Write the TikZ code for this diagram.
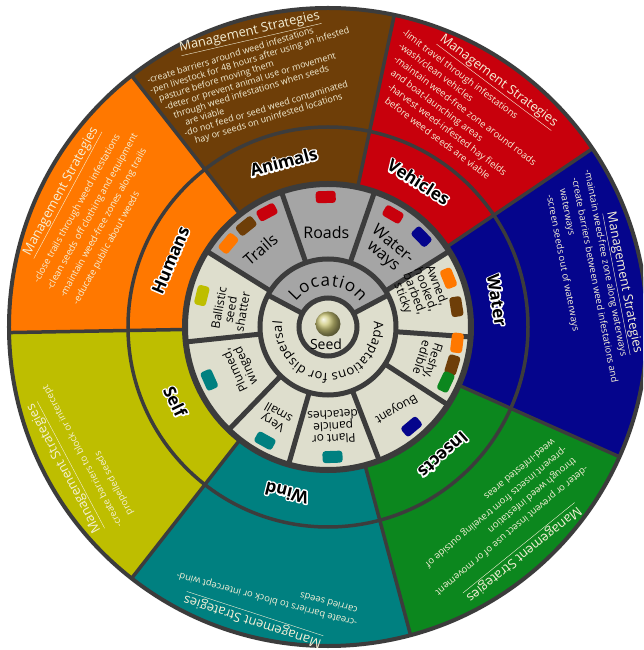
\documentclass[tikz,border=0pt]{standalone}
\usepackage{fontspec}
\setmainfont{Open Sans}
\usetikzlibrary{decorations.text}

\definecolor{animalbrown}{RGB}{110,62,8}
\definecolor{vehiclered}{RGB}{200,0,12}
\definecolor{waterblue}{RGB}{5,5,140}
\definecolor{insectgreen}{RGB}{12,135,30}
\definecolor{windteal}{RGB}{0,128,128}
\definecolor{selfolive}{RGB}{190,190,0}
\definecolor{humanorange}{RGB}{255,120,0}
\definecolor{stone}{RGB}{165,165,165}
\definecolor{paper}{RGB}{222,222,205}
\definecolor{rim}{RGB}{60,60,60}
\definecolor{cream}{RGB}{245,240,215}
\definecolor{seedgold}{RGB}{205,200,120}

% white rim round a black word: stroked copy first, filled copy on top
\newcommand{\halo}[1]{\makebox[0pt][l]{\special{pdf:literal direct 1 1 1 RG 3 w 1 j 1 Tr}#1\special{pdf:literal direct 0 Tr}}#1}

\tikzset{
  rimline/.style={ % thin dark border of the two outer rings
    draw=rim, line width=3.5pt
  },
  hubline/.style={ % thick dark border of the inner rings
    draw=rim, line width=5pt
  },
  ringlabel/.style={ % way of dispersal, middle ring
    font=\fontsize{17}{17}\selectfont\bfseries, text=black, inner sep=1pt
  },
  placelabel/.style={ % location segment of the light ring
    font=\fontsize{16}{15}\selectfont, align=center, text=black, inner sep=0pt
  },
  traitlabel/.style={ % seed adaptation segment of the light ring
    font=\fontsize{12}{12}\selectfont, align=center, text=black, inner sep=0pt
  },
  stratbody/.style={ % list of strategies, outer ring
    font=\fontsize{9.5}{13}\selectfont, align=left, text=cream,
    inner sep=0pt, anchor=north west
  },
  strathead/.style={
    font=\fontsize{13}{13}\selectfont, text=cream, inner sep=0pt
  },
  chip/.style={ % small colour key
    rectangle, rounded corners=3pt, minimum width=20pt,
    minimum height=12pt, inner sep=0pt
  },
  seedball/.style={
    circle, minimum size=25pt, inner sep=0pt, shading=ball, ball color=seedgold
  }
}

\begin{document}
\begin{tikzpicture}[x=1pt, y=1pt]
  \path[use as bounding box] (-328,-323) rectangle (315,327);
  \clip (-328,-323) rectangle (315,327);
  \fill[white] (-328,-323) rectangle (315,327);

  % outer wedges
  \foreach \from/\to/\col in {34/78/vehiclered, 78/128/animalbrown,
      128/181/humanorange, 181/232/selfolive, 232/285/windteal,
      285/336/insectgreen, 336/394/waterblue}
    \fill[\col] (0,0) -- (\from:319) arc[start angle=\from, end angle=\to, radius=319] -- cycle;

  % light ring and hub
  \fill[paper] (0,0) circle[radius=143];
  \fill[stone] (32:68) -- (32:143) arc[start angle=32, end angle=148, radius=143]
    -- (148:68) arc[start angle=148, end angle=32, radius=68] -- cycle;
  \fill[stone] (28:29) -- (28:68) arc[start angle=28, end angle=152, radius=68]
    -- (152:29) arc[start angle=152, end angle=28, radius=29] -- cycle;

  % borders
  \draw[rimline, line width=4pt] (0,0) circle[radius=319];
  \draw[rimline] (0,0) circle[radius=200];
  \foreach \a in {34,78,128,181,232,285,336}
    \draw[rimline] (\a:143) -- (\a:319);
  \foreach \a in {32,71,109,148,186,226,254,291,327,356}
    \draw[hubline] (\a:68) -- (\a:143);
  \foreach \a in {28,152}
    \draw[hubline] (\a:29) -- (\a:68);
  \draw[hubline, line width=6pt] (0,0) circle[radius=143];
  \draw[hubline] (0,0) circle[radius=68];
  \draw[hubline] (0,0) circle[radius=29];

  % colour keys
  \foreach \a/\c [count=\i] in {140/humanorange, 129/animalbrown, 118/vehiclered,
      91/vehiclered, 60/vehiclered, 44/waterblue, 22/humanorange, 9/animalbrown,
      -7/humanorange, -17/animalbrown, -25/insectgreen, -50/waterblue,
      -88/windteal, 241/windteal, 204/windteal, 166/selfolive}
    \node[chip, fill=\c, rotate=\a-90] (chip\i) at (\a:130) {};

  % hub
  \node[seedball] (seed) at (0,3) {};
  \node[font=\fontsize{14}{14}\selectfont, inner sep=0pt] (seed-label) at (-2,-17) {Seed};
  \path[decorate, decoration={text along path, text align={fit to path},
      text={|\fontsize{17}{17}\selectfont|Location}}]
    (142:41) arc[start angle=142, end angle=38, radius=41];
  \path[decorate, decoration={text along path, text align={fit to path},
      text={|\fontsize{13}{13}\selectfont|Adaptations for dispersal}}]
    (7:46) arc[start angle=7, end angle=-187, radius=46];

  % light ring
  \node[placelabel, rotate=41] (trails) at (131:103) {Trails};
  \node[placelabel] (roads) at (91:95) {Roads};
  \node[placelabel, rotate=-40] (waterways) at (52:97) {Water-\\ways};
  \node[traitlabel, rotate=-69] (awned) at (21:98) {Awned,\\hooked,\\barbed,\\sticky};
  \node[traitlabel, rotate=-108] (fleshy) at (-18:105) {Fleshy,\\edible};
  \node[traitlabel, rotate=-150] (buoyant) at (-50:106) {Buoyant};
  \node[traitlabel, rotate=-177] (panicle) at (-87:100) {Plant or\\panicle\\detaches};
  \node[traitlabel, rotate=150] (verysmall) at (240:105) {Very\\small};
  \node[traitlabel, rotate=115] (plumed) at (205:96) {Plumed,\\winged};
  \node[traitlabel, rotate=80] (ballistic) at (170:99) {Ballistic\\seed\\shatter};

  % middle ring
  \node[ringlabel, rotate=15] (animals) at (105:171) {\halo{Animals}};
  \node[ringlabel, rotate=-32] (vehicles) at (58:171) {\halo{Vehicles}};
  \node[ringlabel, rotate=-81] (water) at (9:171) {\halo{Water}};
  \node[ringlabel, rotate=222] (insects) at (312:172) {\halo{Insects}};
  \node[ringlabel, rotate=166] (wind) at (256:171) {\halo{Wind}};
  \node[ringlabel, rotate=-64] (self) at (206:170) {\halo{Self}};
  \node[ringlabel, rotate=67] (humans) at (157:171) {\halo{Humans}};

  % outer ring
  \node[strathead, rotate=13] (animals-head) at (-78,294) {\underline{Management Strategies}};
  \node[stratbody, font=\fontsize{9}{10.2}\selectfont, rotate=17] (animals-list) at (-182,250)
    {-create barriers around weed infestations\\
     -pen livestock for 48 hours after using an infested\\
     \hspace*{6pt}pasture before moving them\\
     \hspace*{9pt}-deter or prevent animal use or movement\\
     \hspace*{15pt}through weed infestations when seeds\\
     \hspace*{24pt}are viable\\
     \hspace*{20pt}-do not feed or seed weed contaminated\\
     \hspace*{28pt}hay or seeds on uninfested locations};

  \node[strathead, rotate=-37] (vehicles-head) at (170,245) {\underline{Management Strategies}};
  \node[stratbody, rotate=-37] (vehicles-list) at (78,299)
    {-limit travel through infestations\\
     \hspace*{5pt}-wash/clean vehicles\\
     \hspace*{9pt}-maintain weed-free zone around roads\\
     \hspace*{15pt}and boat-launching areas\\
     \hspace*{21pt}-harvest weed-infested hay fields\\
     \hspace*{27pt}before weed seeds are viable};

  \node[strathead, rotate=-79] (water-head) at (295,44) {\underline{Management Strategies}};
  \node[stratbody, font=\fontsize{9.5}{14}\selectfont, rotate=-79] (water-list) at (264,158)
    {-maintain weed-free zone along waterways\\
     \hspace*{5pt}-create barriers between weed infestations and\\
     \hspace*{14pt}waterways\\
     \hspace*{17pt}-screen seeds out of waterways};

  \node[strathead, rotate=219] (insects-head) at (195,-226) {\underline{Management Strategies}};
  \node[stratbody, font=\fontsize{9.5}{14}\selectfont, rotate=220] (insects-list) at (262,-144)
    {-deter or prevent insect use of or movement\\
     \hspace*{4pt}through weed infestation\\
     \hspace*{4pt}-prevent insects from traveling outside of\\
     \hspace*{8pt}weed-infested areas};

  \node[strathead, rotate=162] (wind-head) at (-75,-293) {\underline{Management Strategies}};
  \node[stratbody, rotate=165] (wind-list) at (28,-301)
    {-create barriers to block or intercept wind-\\
     \hspace*{3pt}carried seeds};

  \node[strathead, rotate=118] (self-head) at (-263,-141) {\underline{Management Strategies}};
  \node[stratbody, font=\fontsize{9.5}{15}\selectfont, rotate=118] (self-list) at (-212,-202)
    {-create barriers to block or intercept\\
     \hspace*{6pt}propelled seeds};

  \node[strathead, rotate=61.7] (humans-head) at (-266,135) {\underline{Management Strategies}};
  \node[stratbody, font=\fontsize{9.5}{15}\selectfont, rotate=61] (humans-list) at (-296,47)
    {-close trails through weed infestations\\
     -clean seeds off clothing and equipment\\
     -maintain weed-free zones along trails\\
     -educate public about weeds};
\end{tikzpicture}
\end{document}
